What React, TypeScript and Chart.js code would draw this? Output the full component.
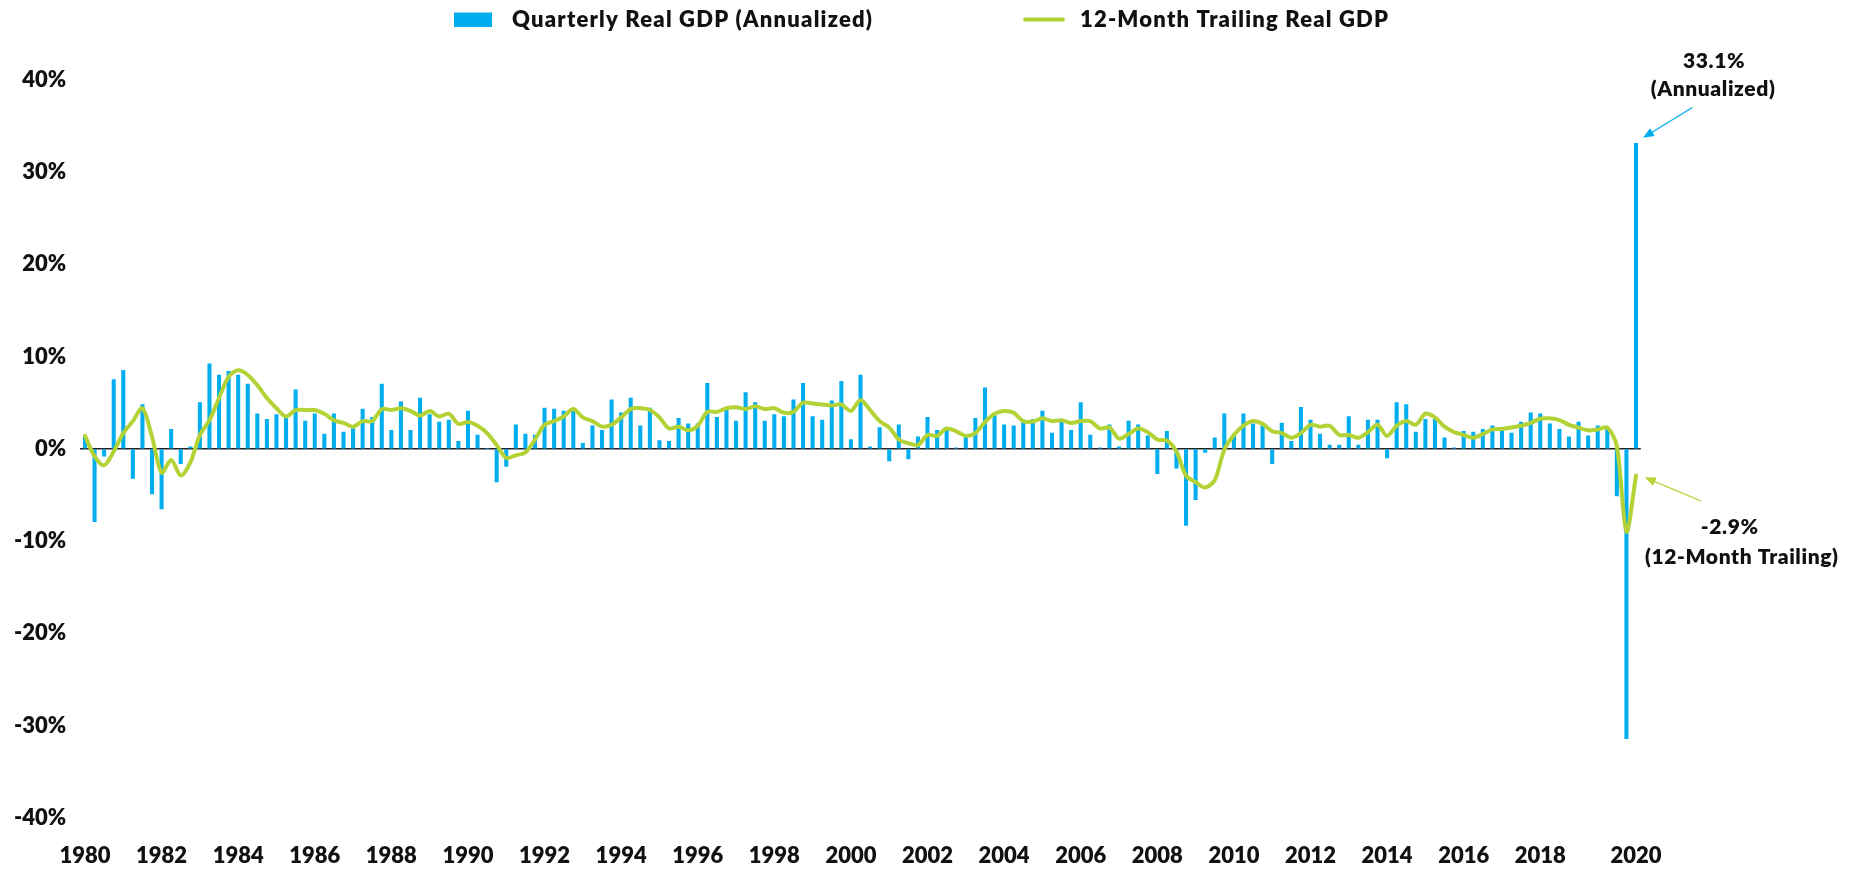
import React, { useEffect, useRef } from "react";
import { Chart, registerables } from "chart.js";

Chart.register(...registerables);

// ---------- data ----------
const YEARS = [
  1980, 1981, 1982, 1983, 1984, 1985, 1986, 1987, 1988, 1989,
  1990, 1991, 1992, 1993, 1994, 1995, 1996, 1997, 1998, 1999,
  2000, 2001, 2002, 2003, 2004, 2005, 2006, 2007, 2008, 2009,
  2010, 2011, 2012, 2013, 2014, 2015, 2016, 2017, 2018, 2019, 2020,
];
const QUARTERS = ["Q1", "Q2", "Q3", "Q4"];
const LAST_CATEGORY = "2020 Q3";

const SERIES_NAMES = ["Quarterly Real GDP (Annualized)", "12-Month Trailing Real GDP"];

// Quarterly real GDP growth, annualized (%), 1980 Q1 .. 2020 Q3
const QUARTERLY_GDP = [
  1.3, -7.9, -0.8, 7.5, 8.5, -3.2, 4.8, -4.9, -6.5, 2.1, -1.6, 0.2,
  5.0, 9.2, 8.0, 8.4, 8.0, 7.0, 3.8, 3.2, 3.7, 3.4, 6.4, 3.0,
  3.8, 1.6, 3.8, 1.8, 2.2, 4.3, 3.4, 7.0, 2.0, 5.1, 2.0, 5.5,
  3.7, 2.9, 3.1, 0.8, 4.1, 1.5, 0.0, -3.6, -1.9, 2.6, 1.6, 1.5,
  4.4, 4.3, 4.1, 4.3, 0.6, 2.5, 2.0, 5.3, 3.9, 5.5, 2.5, 4.4,
  0.9, 0.8, 3.3, 2.7, 2.7, 7.1, 3.4, 4.4, 3.0, 6.1, 5.0, 3.0,
  3.7, 3.5, 5.3, 7.1, 3.5, 3.1, 5.2, 7.3, 1.0, 8.0, 0.2, 2.3,
  -1.3, 2.6, -1.1, 1.3, 3.4, 2.0, 2.0, 0.1, 1.5, 3.3, 6.6, 3.6,
  2.6, 2.5, 3.1, 3.2, 4.1, 1.7, 3.0, 2.0, 5.0, 1.5, 0.1, 2.6,
  0.2, 3.0, 2.6, 1.4, -2.7, 1.9, -2.1, -8.3, -5.5, -0.4, 1.2, 3.8,
  1.6, 3.8, 2.7, 2.5, -1.6, 2.8, 0.8, 4.5, 3.1, 1.6, 0.4, 0.4,
  3.5, 0.4, 3.1, 3.1, -1.0, 5.0, 4.8, 1.8, 3.2, 3.2, 1.2, 0.1,
  1.9, 1.8, 2.1, 2.5, 2.0, 1.7, 2.9, 3.9, 3.8, 2.7, 2.1, 1.3,
  2.9, 1.4, 2.5, 2.2, -5.1, -31.4, 33.1,
];

// 12-month trailing real GDP growth (%), 1980 Q1 .. 2020 Q3
const TRAILING_GDP = [
  1.4, -0.8, -1.8, -0.3, 1.7, 3.0, 4.4, 1.3, -2.6, -1.2, -2.9, -1.5,
  1.5, 3.1, 5.5, 7.8, 8.5, 8.0, 6.9, 5.5, 4.4, 3.5, 4.2, 4.2,
  4.2, 3.8, 3.1, 2.8, 2.4, 3.0, 3.0, 4.3, 4.2, 4.4, 4.1, 3.6,
  4.1, 3.5, 3.8, 2.7, 2.9, 2.5, 1.7, 0.4, -1.0, -0.7, -0.4, 1.0,
  2.6, 3.0, 3.5, 4.3, 3.4, 3.0, 2.4, 2.6, 3.4, 4.3, 4.4, 4.2,
  3.4, 2.2, 2.4, 2.0, 2.5, 4.0, 4.0, 4.4, 4.5, 4.3, 4.6, 4.3,
  4.4, 3.9, 4.0, 5.0, 4.9, 4.8, 4.7, 4.8, 4.1, 5.3, 4.2, 3.0,
  2.3, 1.0, 0.6, 0.4, 1.5, 1.4, 2.2, 1.9, 1.4, 1.7, 2.9, 3.8,
  4.1, 3.9, 3.0, 2.95, 3.3, 3.0, 3.1, 2.8, 3.0, 3.0, 2.2, 2.3,
  1.1, 1.6, 2.2, 1.8, 1.0, 0.9, -0.3, -2.9, -3.6, -4.2, -3.4, -0.1,
  1.5, 2.5, 3.0, 2.7, 1.9, 1.7, 1.2, 1.7, 2.6, 2.4, 2.5, 1.5,
  1.5, 1.2, 1.8, 2.6, 1.4, 2.5, 3.0, 2.6, 3.8, 3.4, 2.4, 1.8,
  1.5, 1.2, 1.6, 2.1, 2.15, 2.3, 2.5, 2.8, 3.25, 3.3, 3.1, 2.6,
  2.3, 2.0, 2.1, 2.3, 0.3, -9.0, -2.9,
];

const X_TICK_LABELS = [
  "1980", "1982", "1984", "1986", "1988", "1990", "1992", "1994", "1996", "1998",
  "2000", "2002", "2004", "2006", "2008", "2010", "2012", "2014", "2016", "2018", "2020",
];
const X_TICK_AT = [
  "1980 Q1", "1982 Q1", "1984 Q1", "1986 Q1", "1988 Q1", "1990 Q1", "1992 Q1", "1994 Q1",
  "1996 Q1", "1998 Q1", "2000 Q1", "2002 Q1", "2004 Q1", "2006 Q1", "2008 Q1", "2010 Q1",
  "2012 Q1", "2014 Q1", "2016 Q1", "2018 Q1", "2020 Q3",
];
const ANNOTATION_NOTES = ["(Annualized)", "(12-Month Trailing)"];

const Y_MIN = -40;
const Y_MAX = 40;
const Y_STEP = 10;

// ---------- derived ----------
const CATEGORIES: string[] = [];
outer: for (const y of YEARS) {
  for (const q of QUARTERS) {
    const c = `${y} ${q}`;
    CATEGORIES.push(c);
    if (c === LAST_CATEGORY) break outer;
  }
}

// ---------- style ----------
const FONT = "Lato, 'Noto Sans', 'DejaVu Sans', sans-serif";
const BAR_COLOR = "#00AEEF";
const LINE_COLOR = "#B2D235";
const TEXT_COLOR = "#111111";
const WEIGHT = "800";

function drawArrow(ctx: CanvasRenderingContext2D, fx: number, fy: number, tx: number, ty: number, color: string) {
  const ang = Math.atan2(ty - fy, tx - fx);
  const headLen = 11;
  const headHalf = 4.5;
  const bx = tx - headLen * Math.cos(ang);
  const by = ty - headLen * Math.sin(ang);
  ctx.save();
  ctx.strokeStyle = color;
  ctx.fillStyle = color;
  ctx.lineWidth = 1.3;
  ctx.beginPath();
  ctx.moveTo(fx, fy);
  ctx.lineTo(bx, by);
  ctx.stroke();
  ctx.beginPath();
  ctx.moveTo(tx, ty);
  ctx.lineTo(bx + headHalf * Math.sin(ang), by - headHalf * Math.cos(ang));
  ctx.lineTo(bx - headHalf * Math.sin(ang), by + headHalf * Math.cos(ang));
  ctx.closePath();
  ctx.fill();
  ctx.restore();
}

const overlayPlugin = {
  id: "overlay",
  afterDraw(chart: any) {
    const ctx: any = chart.ctx;
    const xs = chart.scales.x;
    const ys = chart.scales.y;
    const ds = chart.data.datasets;
    ctx.save();

    // legend
    ctx.font = `${WEIGHT} 22px ${FONT}`;
    ctx.letterSpacing = "1.2px";
    ctx.textBaseline = "middle";
    ctx.textAlign = "left";
    ctx.fillStyle = BAR_COLOR;
    ctx.fillRect(454, 12.5, 38, 14.5);
    ctx.fillStyle = TEXT_COLOR;
    ctx.fillText(ds[1].label, 512, 20);
    ctx.strokeStyle = LINE_COLOR;
    ctx.lineWidth = 4;
    ctx.lineCap = "round";
    ctx.beginPath();
    ctx.moveTo(1025, 19.5);
    ctx.lineTo(1063, 19.5);
    ctx.stroke();
    ctx.fillText(ds[0].label, 1080, 20);

    // annotations
    const n = QUARTERLY_GDP.length - 1;
    const px = xs.getPixelForValue(n);

    const barV = QUARTERLY_GDP[n];
    const bTipX = px + 7;
    const bTipY = ys.getPixelForValue(barV) - 5.5;
    drawArrow(ctx, bTipX + 49, bTipY - 30, bTipX, bTipY, BAR_COLOR);
    ctx.textAlign = "center";
    ctx.fillStyle = TEXT_COLOR;
    ctx.font = `${WEIGHT} 21px ${FONT}`;
    ctx.letterSpacing = "0.6px";
    ctx.fillText(`${barV.toFixed(1)}%`, bTipX + 71, bTipY - 77);
    ctx.fillText(ANNOTATION_NOTES[0], bTipX + 70, bTipY - 48.5);

    const lineV = TRAILING_GDP[n];
    const gTipX = px + 8.7;
    const gTipY = ys.getPixelForValue(lineV) + 1.8;
    drawArrow(ctx, gTipX + 55.7, gTipY + 23.4, gTipX, gTipY, LINE_COLOR);
    ctx.fillStyle = TEXT_COLOR;
    ctx.fillText(`${lineV.toFixed(1)}%`, gTipX + 85, gTipY + 50);
    ctx.fillText(ANNOTATION_NOTES[1], gTipX + 97, gTipY + 80);

    ctx.letterSpacing = "0px";
    ctx.restore();
  },
};

export default function App() {
  const canvasRef = useRef<HTMLCanvasElement | null>(null);

  useEffect(() => {
    const canvas = canvasRef.current;
    if (!canvas) return;
    const chart = new Chart(canvas, {
      type: "bar",
      data: {
        labels: CATEGORIES,
        datasets: [
          {
            type: "line",
            label: SERIES_NAMES[1],
            data: TRAILING_GDP,
            borderColor: LINE_COLOR,
            backgroundColor: LINE_COLOR,
            borderWidth: 4,
            pointRadius: 0,
            tension: 0.3,
            borderCapStyle: "round",
            borderJoinStyle: "round",
            order: 0,
          } as any,
          {
            type: "bar",
            label: SERIES_NAMES[0],
            data: QUARTERLY_GDP,
            backgroundColor: BAR_COLOR,
            borderWidth: 0,
            barThickness: 3.4,
            order: 1,
          } as any,
        ],
      },
      options: {
        animation: false,
        responsive: false,
        devicePixelRatio: 1,
        layout: { padding: { left: 0, right: 219.2, top: 79.6, bottom: 0 } },
        plugins: {
          legend: { display: false },
          tooltip: { enabled: false },
          title: { display: false },
        },
        scales: {
          x: {
            type: "category",
            offset: true,
            grid: { display: false, drawTicks: false },
            border: { display: false },
            ticks: {
              autoSkip: false,
              maxRotation: 0,
              minRotation: 0,
              padding: 25,
              color: TEXT_COLOR,
              font: { family: FONT, size: 22, weight: WEIGHT as any },
              callback: (_v: any, i: number) => {
                const k = X_TICK_AT.indexOf(CATEGORIES[i]);
                return k >= 0 ? X_TICK_LABELS[k] : "";
              },
            },
            afterFit: (scale: any) => {
              scale.height = 52;
            },
          },
          y: {
            min: Y_MIN,
            max: Y_MAX,
            grid: {
              drawTicks: false,
              color: (c: any) => (c.tick && c.tick.value === 0 ? "#222222" : "rgba(0,0,0,0)"),
              lineWidth: 1.5,
            },
            border: { display: false },
            ticks: {
              stepSize: Y_STEP,
              padding: 14,
              color: TEXT_COLOR,
              font: { family: FONT, size: 22, weight: WEIGHT as any },
              callback: (v: any) => `${v}%`,
            },
            afterFit: (scale: any) => {
              scale.width = 80.2;
            },
          },
        },
      },
      plugins: [overlayPlugin],
    });
    return () => chart.destroy();
  }, []);

  return (
    <div style={{ position: "absolute", left: 0, top: 0, width: 1860, height: 870, background: "#ffffff" }}>
      <canvas ref={canvasRef} width={1860} height={870} style={{ display: "block" }} />
    </div>
  );
}
